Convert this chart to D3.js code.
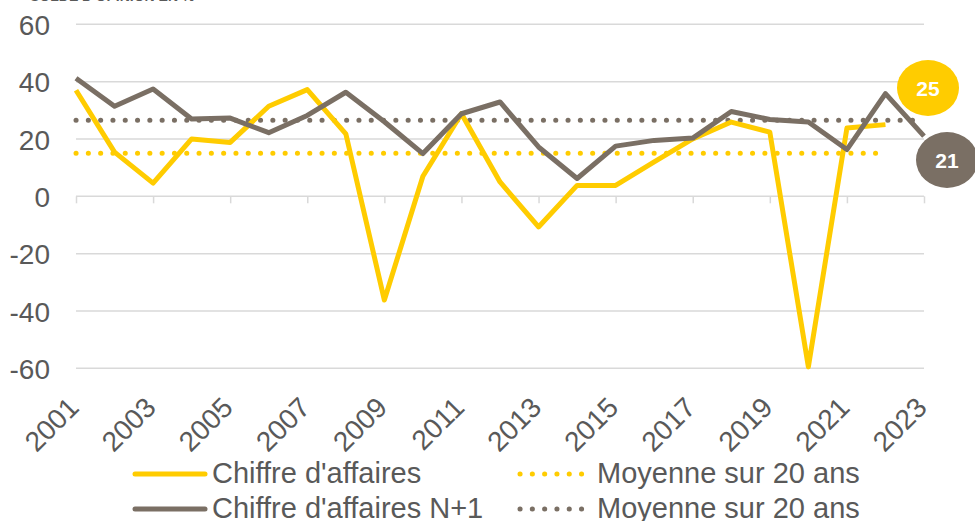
<!DOCTYPE html>
<html>
<head>
<meta charset="utf-8">
<script src="https://cdn.jsdelivr.net/npm/d3@7"></script>
<style>
  body { margin: 0; background: #fff; }
  svg { display: block; font-family: "Liberation Sans", Arial, sans-serif; }
</style>
</head>
<body>
<svg id="chart" width="975" height="521"></svg>
<script>
// data
const years = d3.range(2001, 2024)
const chiffreAffaires = [37, 15.4, 4.6, 20, 18.8, 31.4, 37.2, 21.8, -36.2, 7, 28.8, 5, -10.7, 3.8, 3.8, 12, 20, 25.9, 22.4, -59.5, 23.8, 25]
const chiffreAffairesN1 = [41.2, 31.4, 37.4, 27, 27.3, 22.2, 28.2, 36.3, 26, 14.9, 28.8, 32.9, 17.2, 6.2, 17.5, 19.5, 20.3, 29.6, 26.8, 25.9, 16.3, 35.8, 21]
const moyenneCA = 15
const moyenneN1 = 26.5
const yTicks = [-60, -40, -20, 0, 20, 40, 60]
const legendLabels = ["Chiffre d'affaires", "Moyenne sur 20 ans", "Chiffre d'affaires N+1", "Moyenne sur 20 ans"]

const yellow = "#ffcc00"
const grey = "#7a6f64"
const textColor = "#595959"

const svg = d3.select("#chart")

//scales
const x = d3.scalePoint().domain(years).range([76, 924])
const y = d3.scaleLinear().domain([-60, 60]).range([368.3, 24.3])

//titre coupe en haut
svg.append("text")
  .attr("x", 30).attr("y", 1)
  .attr("font-size", 14).attr("font-weight", "bold")
  .attr("fill", textColor)
  .text("SOLDE D'OPINION EN %")

//grille
svg.append("g")
  .selectAll("line")
  .data(yTicks)
  .join("line")
  .attr("x1", 76).attr("x2", 924)
  .attr("y1", (d) => y(d)).attr("y2", (d) => y(d))
  .attr("stroke", "#d9d9d9").attr("stroke-width", 1.5)

//axe y
const yAxis = svg.append("g")
  .attr("transform", "translate(50,0)")
  .call(d3.axisLeft(y).tickValues(yTicks).tickSize(0).tickPadding(0).tickFormat((d) => String(d)))
yAxis.select(".domain").remove()
yAxis.selectAll("text")
  .attr("font-size", 28).attr("fill", textColor)
  .attr("font-family", "Liberation Sans, Arial, sans-serif")
  .attr("dy", "0.36em")

//axe x
const xAxis = svg.append("g")
  .attr("transform", "translate(0," + y(0) + ")")
  .call(d3.axisBottom(x).tickValues(years.filter((d, i) => i % 2 == 0)).tickSize(7).tickPadding(0))
xAxis.select(".domain").remove()
xAxis.selectAll("line").attr("stroke", "#d9d9d9").attr("stroke-width", 1.5)
xAxis.selectAll("text")
  .attr("font-size", 28).attr("fill", textColor)
  .attr("font-family", "Liberation Sans, Arial, sans-serif")
  .attr("text-anchor", "end")
  .attr("dy", "0")
  .attr("transform", "translate(-1,208) rotate(-45)")

//moyennes
const dotted = (sel, color, n, val) => {
  sel.append("line")
    .attr("x1", x(years[0])).attr("x2", x(years[n - 1]))
    .attr("y1", y(val)).attr("y2", y(val))
    .attr("stroke", color).attr("stroke-width", 5)
    .attr("stroke-linecap", "round")
    .attr("stroke-dasharray", "0.1 12.2")
}
dotted(svg, yellow, chiffreAffaires.length, moyenneCA)
dotted(svg, grey, chiffreAffairesN1.length, moyenneN1)

//courbes
const line = d3.line().x((d, i) => x(years[i])).y((d) => y(d))

svg.append("path")
  .datum(chiffreAffaires)
  .attr("d", line)
  .attr("fill", "none").attr("stroke", yellow)
  .attr("stroke-width", 5).attr("stroke-linejoin", "round")

svg.append("path")
  .datum(chiffreAffairesN1)
  .attr("d", line)
  .attr("fill", "none").attr("stroke", grey)
  .attr("stroke-width", 5).attr("stroke-linejoin", "round")

//etiquettes fin
const labels = [
  { v: chiffreAffaires[chiffreAffaires.length - 1], color: yellow, cx: 928, cy: 88 },
  { v: chiffreAffairesN1[chiffreAffairesN1.length - 1], color: grey, cx: 947, cy: 160 },
]
const lab = svg.append("g").selectAll("g").data(labels).join("g")
lab.append("ellipse")
  .attr("cx", (d) => d.cx).attr("cy", (d) => d.cy)
  .attr("rx", 31).attr("ry", 28)
  .attr("fill", (d) => d.color)
lab.append("text")
  .attr("x", (d) => d.cx).attr("y", (d) => d.cy)
  .attr("dy", "0.36em").attr("text-anchor", "middle")
  .attr("font-size", 21).attr("font-weight", "bold").attr("fill", "#fff")
  .text((d) => Math.round(d.v))

//legende
const legend = [
  { label: legendLabels[0], color: yellow, dash: null, x: 135, y: 474 },
  { label: legendLabels[1], color: yellow, dash: "0.1 12.2", x: 520, y: 474 },
  { label: legendLabels[2], color: grey, dash: null, x: 135, y: 509 },
  { label: legendLabels[3], color: grey, dash: "0.1 12.2", x: 520, y: 509 },
]
const lg = svg.append("g").selectAll("g").data(legend).join("g")
lg.append("line")
  .attr("x1", (d) => d.x).attr("x2", (d) => d.x + (d.dash ? 64 : 70))
  .attr("y1", (d) => d.y).attr("y2", (d) => d.y)
  .attr("stroke", (d) => d.color).attr("stroke-width", 5)
  .attr("stroke-linecap", "round")
  .attr("stroke-dasharray", (d) => d.dash)
lg.append("text")
  .attr("x", (d) => d.x + 77).attr("y", (d) => d.y + 9)
  .attr("font-size", 29).attr("fill", textColor)
  .text((d) => d.label)
</script>
</body>
</html>
